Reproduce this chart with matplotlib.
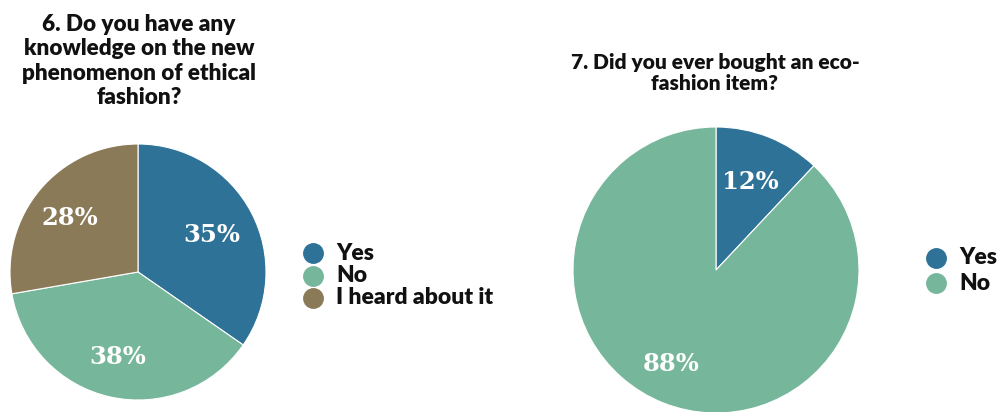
import matplotlib.pyplot as plt
from matplotlib.lines import Line2D

# survey answers, percent
q6_labels = ["Yes", "No", "I heard about it"]
q6_values = [35, 38, 28]
q7_labels = ["Yes", "No"]
q7_values = [12, 88]

q6_title = "6. Do you have any\nknowledge on the new\nphenomenon of ethical\nfashion?"
q7_title = "7. Did you ever bought an eco-\nfashion item?"

blue = "#2e7297"
green = "#76b79b"
brown = "#8b7a57"

W, H = 998, 412
fig = plt.figure(figsize=(W / 100, H / 100), dpi=100)
ax = fig.add_axes([0, 0, 1, 1])

title_font = dict(family="Lato", weight="heavy", color="#111111")
pct_font = dict(family="DejaVu Serif", weight="bold", color="white", fontsize=17.5)


def draw_pie(values, colors, center, radius, label_pos):
    wedges, _ = ax.pie(values, colors=colors, startangle=90, counterclock=False,
                       center=(center[0], H - center[1]), radius=radius,
                       wedgeprops=dict(linewidth=0.8, edgecolor="white"))
    for v, (x, y) in zip(values, label_pos):
        ax.text(x, H - y, f"{v}%", ha="center", va="center", **pct_font)
    return wedges


draw_pie(q6_values, [blue, green, brown], (138, 272), 128,
         [(212, 235), (118, 357), (70, 218)])
draw_pie(q7_values, [blue, green], (716, 270), 143,
         [(750, 182), (671, 364)])

ax.text(139, H - 61, q6_title, ha="center", va="center", fontsize=16.2,
        linespacing=1.2, **title_font)
ax.text(715, H - 73, q7_title, ha="center", va="center", fontsize=15,
        linespacing=1.15, **title_font)


def legend(labels, colors, x, y0, step):
    for i, (lab, c) in enumerate(zip(labels, colors)):
        y = H - (y0 + i * step)
        ax.add_line(Line2D([x], [y], marker="o", markersize=14, color=c,
                           linestyle="none"))
        ax.text(x + 23, y, lab, ha="left", va="center", fontsize=16.5,
                family="Lato", weight="heavy", color="#111111")


legend(q6_labels, [blue, green, brown], 313, 253, 22.5)
legend(q7_labels, [blue, green], 936, 258, 25)

ax.set_xlim(0, W)
ax.set_ylim(0, H)
ax.set_aspect("equal")
ax.axis("off")

fig.savefig("out.png", dpi=100, facecolor="white")
